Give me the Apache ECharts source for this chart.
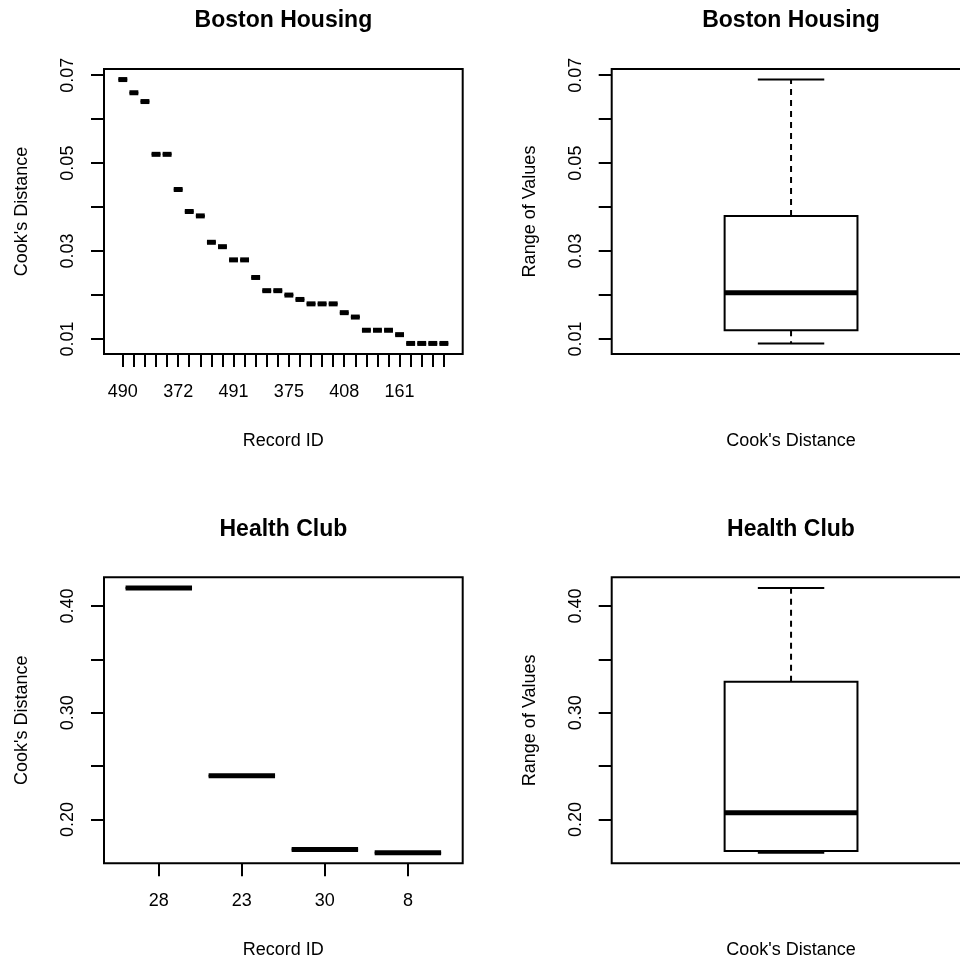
<!DOCTYPE html>
<html>
<head>
<meta charset="utf-8">
<script src="https://cdn.jsdelivr.net/npm/echarts@6/dist/echarts.min.js"></script>
<style>
  html, body { margin: 0; padding: 0; background: #fff; }
  #main { width: 960px; height: 960px; }
</style>
</head>
<body>
<div id="main"></div>
<script>
// record ids in plotted order (only the labels R could fit are readable)
var bostonIds = ['490', '', '', '', '', '372', '', '', '', '', '491', '', '', '', '',
  '375', '', '', '', '', '408', '', '', '', '', '161', '', '', '', ''];
var bostonCooks = [0.069, 0.066, 0.064, 0.052, 0.052, 0.044, 0.039, 0.038, 0.032, 0.031,
  0.028, 0.028, 0.024, 0.021, 0.021, 0.020, 0.019, 0.018, 0.018, 0.018,
  0.016, 0.015, 0.012, 0.012, 0.012, 0.011, 0.009, 0.009, 0.009, 0.009];
var healthIds = ['28', '23', '30', '8'];
var healthCooks = [0.417, 0.241, 0.172, 0.169];

var bostonTicks = [0.01, 0.02, 0.03, 0.04, 0.05, 0.06, 0.07];
var bostonTickLabels = [0.01, 0.03, 0.05, 0.07];
var healthTicks = [0.20, 0.25, 0.30, 0.35, 0.40];
var healthTickLabels = [0.20, 0.30, 0.40];

var FONT = "'Liberation Sans', Arial, Helvetica, sans-serif";

// Tukey five numbers, same as R fivenum()
function fivenum(a) {
  var x = a.slice().sort(function (p, q) { return p - q; });
  var n = x.length;
  var n4 = Math.floor((n + 3) / 2) / 2;
  var d = [1, n4, (n + 1) / 2, n + 1 - n4, n];
  return d.map(function (k) { return 0.5 * (x[Math.floor(k) - 1] + x[Math.ceil(k) - 1]); });
}
// boxplot stats with 1.5 IQR whiskers
function boxStats(a) {
  var f = fivenum(a);
  var iqr = f[3] - f[1];
  var inside = a.filter(function (v) { return v >= f[1] - 1.5 * iqr && v <= f[3] + 1.5 * iqr; });
  return [Math.min.apply(null, inside), f[1], f[2], f[3], Math.max.apply(null, inside)];
}
// R pads the data range by 4% on each side
function padRange(lo, hi) {
  var d = (hi - lo) * 0.04;
  return [lo - d, hi + d];
}
function range(a) { return padRange(Math.min.apply(null, a), Math.max.apply(null, a)); }

function boxRender(boxW) {
  return function (params, api) {
    var x = api.value(0);
    var lo = api.value(1), q1 = api.value(2), med = api.value(3), q3 = api.value(4), hi = api.value(5);
    var y = function (v) { return api.coord([x, v])[1]; };
    var px = api.coord([x, med])[0];
    var xl = api.coord([x - boxW / 2, med])[0], xr = api.coord([x + boxW / 2, med])[0];
    var sl = api.coord([x - boxW / 4, med])[0], sr = api.coord([x + boxW / 4, med])[0];
    var ln = { stroke: '#000', lineWidth: 2 };
    var dash = { stroke: '#000', lineWidth: 2, lineDash: [6, 5] };
    return {
      type: 'group',
      children: [
        { type: 'line', shape: { x1: px, y1: y(q3), x2: px, y2: y(hi) }, style: dash },
        { type: 'line', shape: { x1: px, y1: y(q1), x2: px, y2: y(lo) }, style: dash },
        { type: 'line', shape: { x1: sl, y1: y(hi), x2: sr, y2: y(hi) }, style: ln },
        { type: 'line', shape: { x1: sl, y1: y(lo), x2: sr, y2: y(lo) }, style: ln },
        { type: 'rect', shape: { x: xl, y: y(q3), width: xr - xl, height: y(q1) - y(q3) },
          style: { stroke: '#000', lineWidth: 2, fill: 'none' } },
        { type: 'line', shape: { x1: xl, y1: y(med), x2: xr, y2: y(med) },
          style: { stroke: '#000', lineWidth: 5 } }
      ]
    };
  };
}

var bostonRange = range(bostonCooks);
var healthRange = range(healthCooks);

var bostonData = bostonCooks.map(function (v, i) { return [i + 1, v, v, v, v, v]; });
var healthData = healthCooks.map(function (v, i) { return [i + 1, v, v, v, v, v]; });
var bostonBox = [[1].concat(boxStats(bostonCooks))];
var healthBox = [[1].concat(boxStats(healthCooks))];

function seq(n) { var r = []; for (var i = 1; i <= n; i++) r.push(i); return r; }

var txt = { color: '#000', fontFamily: FONT, fontSize: 18 };

function xAxisIds(gridIndex, ids, labelIdx) {
  var n = ids.length;
  var r = padRange(0.5, n + 0.5);
  return {
    type: 'value', gridIndex: gridIndex, min: r[0], max: r[1],
    name: 'Record ID', nameLocation: 'middle', nameGap: 78,
    nameTextStyle: txt,
    axisLine: { show: false, onZero: false },
    splitLine: { show: false },
    axisTick: { show: true, length: 13, customValues: seq(n), lineStyle: { color: '#000', width: 2 } },
    axisLabel: { customValues: labelIdx, margin: 29, color: '#000', fontFamily: FONT, fontSize: 18,
      formatter: function (v) { return ids[Math.round(v) - 1]; } }
  };
}
function xAxisBox(gridIndex) {
  var r = padRange(0.5, 1.5);
  return {
    type: 'value', gridIndex: gridIndex, min: r[0], max: r[1],
    name: "Cook's Distance", nameLocation: 'middle', nameGap: 78,
    nameTextStyle: txt,
    axisLine: { show: false, onZero: false }, splitLine: { show: false },
    axisTick: { show: false }, axisLabel: { show: false }
  };
}
function yAxisCooks(gridIndex, rng, ticks, labels, name) {
  return {
    type: 'value', gridIndex: gridIndex, min: rng[0], max: rng[1],
    name: name, nameLocation: 'middle', nameGap: 73, nameRotate: 90,
    nameTextStyle: txt,
    axisLine: { show: false, onZero: false }, splitLine: { show: false },
    axisTick: { show: true, length: 13, customValues: ticks, lineStyle: { color: '#000', width: 2 } },
    axisLabel: { customValues: labels, rotate: 90, margin: 27, color: '#000', fontFamily: FONT, fontSize: 18,
      formatter: function (v) { return v.toFixed(2); } }
  };
}

var frame = { show: true, borderColor: '#000', borderWidth: 2, backgroundColor: 'transparent', outerBoundsMode: 'none' };
var titleStyle = { fill: '#000', font: "bold 23px " + FONT, align: 'center', verticalAlign: 'middle' };

var option = {
  animation: false,
  backgroundColor: '#fff',
  graphic: [
    { type: 'text', x: 283.4, y: 21, style: Object.assign({ text: 'Boston Housing' }, titleStyle) },
    { type: 'text', x: 791, y: 21, style: Object.assign({ text: 'Boston Housing' }, titleStyle) },
    { type: 'text', x: 283.4, y: 529.5, style: Object.assign({ text: 'Health Club' }, titleStyle) },
    { type: 'text', x: 791, y: 529.5, style: Object.assign({ text: 'Health Club' }, titleStyle) }
  ],
  grid: [
    Object.assign({ left: 104, top: 69, width: 358.7, height: 285 }, frame),
    Object.assign({ left: 611.7, top: 69, width: 358.7, height: 285 }, frame),
    Object.assign({ left: 104, top: 577.3, width: 358.7, height: 286 }, frame),
    Object.assign({ left: 611.7, top: 577.3, width: 358.7, height: 286 }, frame)
  ],
  xAxis: [
    xAxisIds(0, bostonIds, [1, 6, 11, 16, 21, 26]),
    xAxisBox(1),
    xAxisIds(2, healthIds, [1, 2, 3, 4]),
    xAxisBox(3)
  ],
  yAxis: [
    yAxisCooks(0, bostonRange, bostonTicks, bostonTickLabels, "Cook's Distance"),
    yAxisCooks(1, bostonRange, bostonTicks, bostonTickLabels, 'Range of Values'),
    yAxisCooks(2, healthRange, healthTicks, healthTickLabels, "Cook's Distance"),
    yAxisCooks(3, healthRange, healthTicks, healthTickLabels, 'Range of Values')
  ],
  series: [
    { type: 'custom', xAxisIndex: 0, yAxisIndex: 0, renderItem: boxRender(0.8), data: bostonData,
      encode: { x: 0, y: [1, 2, 3, 4, 5] } },
    { type: 'custom', xAxisIndex: 1, yAxisIndex: 1, renderItem: boxRender(0.4), data: bostonBox,
      encode: { x: 0, y: [1, 2, 3, 4, 5] } },
    { type: 'custom', xAxisIndex: 2, yAxisIndex: 2, renderItem: boxRender(0.8), data: healthData,
      encode: { x: 0, y: [1, 2, 3, 4, 5] } },
    { type: 'custom', xAxisIndex: 3, yAxisIndex: 3, renderItem: boxRender(0.4), data: healthBox,
      encode: { x: 0, y: [1, 2, 3, 4, 5] } }
  ]
};

echarts.init(document.getElementById('main')).setOption(option);
</script>
</body>
</html>
